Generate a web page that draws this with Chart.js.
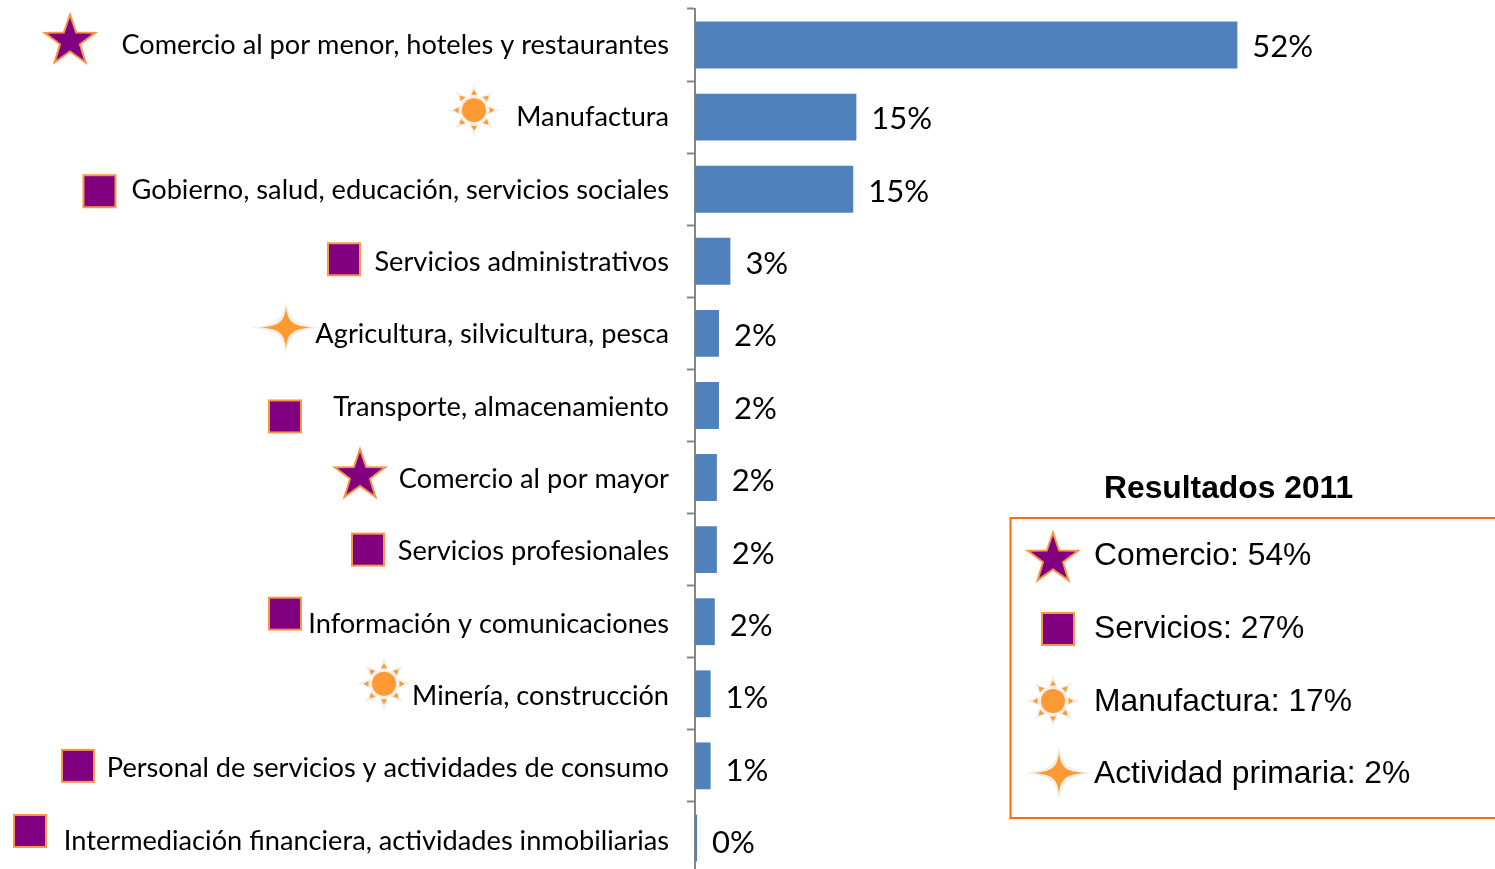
<!DOCTYPE html>
<html><head><meta charset="utf-8">
<script src="https://cdn.jsdelivr.net/npm/chart.js@4"></script>
<style>html,body{margin:0;padding:0;background:#fff;overflow:hidden;width:1495px;height:869px}
#wrap{width:1495px;height:880px}canvas{display:block}</style>
</head><body><div id="wrap"><canvas id="c" width="1495" height="880"></canvas></div>
<script>
const categories = [
 "Comercio al por menor, hoteles y restaurantes","Manufactura",
 "Gobierno, salud, educación, servicios sociales","Servicios administrativos",
 "Agricultura, silvicultura, pesca","Transporte, almacenamiento","Comercio al por mayor",
 "Servicios profesionales","Información y comunicaciones","Minería, construcción",
 "Personal de servicios y actividades de consumo","Intermediación financiera, actividades inmobiliarias"];
const shares = [52.1,15.5,15.2,3.4,2.3,2.3,2.1,2.1,1.9,1.5,1.5,0.2];
const shareLabels = ["52%","15%","15%","3%","2%","2%","2%","2%","2%","1%","1%","0%"];
const sectorKinds = ["star","sun","square","square","spark","square","star","square","square","sun","square","square"];
const legendTitle = "Resultados 2011";
const legendLabels = ["Comercio: 54%","Servicios: 27%","Manufactura: 17%","Actividad primaria: 2%"];
const legendKinds = ["star","square","sun","spark"];

// layout of the pictograms (pixel x, y offset from the bar centre)
const iconX = [70,474,99.5,344,286,285,360,368,285,384,78,30];
const iconDY = [-5,-7,2,-2,-6,11,-3,0,-8,-10,0,-7];
const legendIconPos = [[1053,558],[1058,629],[1053,701],[1059,773]];
const LABEL_DRIFT = 0.27; // text rows run slightly wider than the bars
const PURPLE="#800080", ORANGE="#F79646", SUNC="#FF9933", HALO="#F1EFE6";

function starPath(g,x,y,R,r,n,rot){g.beginPath();for(let i=0;i<n*2;i++){const a=rot+i*Math.PI/n,q=i%2?r:R;
  const px=x+Math.cos(a)*q,py=y+Math.sin(a)*q;i?g.lineTo(px,py):g.moveTo(px,py);}g.closePath();}
function drawIcon(g,kind,x,y){
  g.save();
  if(kind==="star"){starPath(g,x,y+1,26.5,10.5,5,-Math.PI/2);g.fillStyle=PURPLE;g.fill();g.strokeStyle=ORANGE;g.lineWidth=2;g.lineJoin="miter";g.stroke();}
  else if(kind==="square"){g.fillStyle=PURPLE;g.fillRect(x-16,y-16,32,32);g.strokeStyle=ORANGE;g.lineWidth=2;g.strokeRect(x-16,y-16,32,32);}
  else if(kind==="sun"){
    starPath(g,x,y,26.5,13,8,-Math.PI/2);g.fillStyle=HALO;g.fill();
    for(let i=0;i<8;i++){const a=i*Math.PI/4;g.save();g.translate(x,y);g.rotate(a);g.beginPath();g.moveTo(0,-20.5);g.lineTo(-3,-15.5);g.lineTo(3,-15.5);g.closePath();g.fillStyle=SUNC;g.fill();g.restore();}
    g.beginPath();g.arc(x,y,12,0,Math.PI*2);g.fillStyle=SUNC;g.fill();
  } else {
    const spark=(rx,ry,a,b)=>{g.beginPath();g.moveTo(x,y-ry);
      [[1,-1],[1,1],[-1,1],[-1,-1]].forEach(([sx,sy],k)=>{
        if(k%2===0) g.bezierCurveTo(x+sx*a,y+sy*b,x+sx*b,y+sy*a,x+sx*rx,y);
        else g.bezierCurveTo(x+sx*b,y+sy*a,x+sx*a,y+sy*b,x,y+sy*ry);
      });g.closePath();};
    spark(36,27,3,8);g.fillStyle=HALO;g.fill();
    spark(26,21,1.5,6);g.fillStyle=SUNC;g.fill();
  }
  g.restore();
}
const extras={id:"extras",
 beforeDraw(chart){
  const ys=chart.scales.y;
  ys.getLabelItems(chart.chartArea).forEach((it,i)=>{
    if(!it._drifted){it.options.translation[1]+=i*LABEL_DRIFT;it._drifted=true;}
  });
 },
 afterDatasetsDraw(chart){
  const g=chart.ctx,xs=chart.scales.x,ys=chart.scales.y;
  g.save();
  g.fillStyle="#000";g.textBaseline="middle";g.textAlign="left";g.font='31px Lato';
  shares.forEach((v,i)=>{g.fillText(shareLabels[i],xs.getPixelForValue(v)+15,ys.getPixelForValue(i)+2+i*LABEL_DRIFT);});
  sectorKinds.forEach((k,i)=>drawIcon(g,k,iconX[i],ys.getPixelForValue(i)+iconDY[i]));
  g.strokeStyle="#FF6A13";g.lineWidth=2;g.beginPath();g.moveTo(1497,518);g.lineTo(1010.5,518);g.lineTo(1010.5,818);g.lineTo(1497,818);g.stroke();
  g.font='bold 31.8px "Liberation Sans"';g.textAlign="left";g.fillText(legendTitle,1104,489);
  legendLabels.forEach((t,i)=>{const p=legendIconPos[i];drawIcon(g,legendKinds[i],p[0],p[1]);});
  g.font='31.8px "Liberation Sans"';
  legendLabels.forEach((t,i)=>{g.fillStyle="#000";g.fillText(t,1094,556+i*72.9);});
  g.restore();
}};
new Chart(document.getElementById("c"),{
  type:"bar",
  data:{labels:categories,datasets:[{data:shares,backgroundColor:"#4F81BD",barPercentage:0.65,categoryPercentage:1}]},
  plugins:[extras],
  options:{indexAxis:"y",responsive:false,animation:false,
    layout:{padding:{top:9,bottom:6,left:0,right:0}},
    plugins:{legend:{display:false},tooltip:{enabled:false},title:{display:false}},
    scales:{
      x:{display:false,min:0,max:76.85},
      y:{afterFit(s){s.width=695;s.paddingTop=0;s.paddingBottom=0;},
         border:{color:"#868686",width:2},
         grid:{drawOnChartArea:false,tickColor:"#868686",tickLength:8,tickWidth:2},
         ticks:{color:"#000",font:{family:"Lato",size:27.2},padding:18,autoSkip:false}}
    }}
});
</script></body></html>
